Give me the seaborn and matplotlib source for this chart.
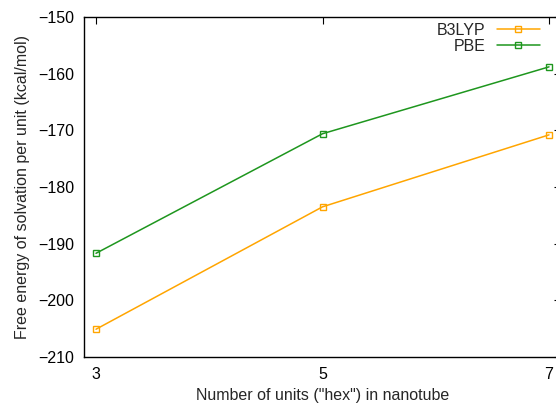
import matplotlib
matplotlib.use("Agg")
import matplotlib.pyplot as plt
import seaborn as sns
import pandas as pd
from matplotlib.lines import Line2D

units = [3, 5, 7]
b3lyp = [-205.1, -183.5, -170.8]
pbe = [-191.7, -170.6, -158.8]
series_names = ["B3LYP", "PBE"]
colors = ["#FFA500", "#1E961E"]
yticks = [-210, -200, -190, -180, -170, -160, -150]
xticks = [3, 5, 7]

df = pd.DataFrame({
    "units": units * 2,
    "energy": b3lyp + pbe,
    "method": [series_names[0]] * 3 + [series_names[1]] * 3,
})

sns.set_style("white")
plt.rcParams["font.family"] = ["Liberation Sans", "DejaVu Sans"]

fig = plt.figure(figsize=(5.56, 4.04), dpi=100)
ax = fig.add_axes([84 / 556, 47 / 404, 477 / 556, 340 / 404])

sns.lineplot(data=df, x="units", y="energy", hue="method", style="method",
             markers=["s", "s"], dashes=False, palette=colors, ax=ax,
             linewidth=1.1, markersize=4.5, markerfacecolor="none",
             markeredgewidth=1.0, legend=False)
for line, c in zip(ax.lines, colors):
    line.set_markeredgecolor(c)
    line.set_markerfacecolor("none")

ax.set_xlim(2.894, 7.106)
ax.set_ylim(-210, -150)
ax.set_xticks(xticks)
ax.set_yticks(yticks)
ax.tick_params(direction="in", length=5, width=0.8, top=True, right=True,
               labelsize=11.5, colors="black", pad=7)
for s in ax.spines.values():
    s.set_color("black")
    s.set_linewidth(1.0)
ax.set_xlabel('Number of units ("hex") in nanotube', fontsize=11.5, labelpad=4.5)
ax.set_ylabel("Free energy of solvation per unit (kcal/mol)", fontsize=11.5, labelpad=6)

handles = [Line2D([], [], color=c, marker="s", markersize=4.5, markerfacecolor="none",
                  markeredgecolor=c, linewidth=1.1) for c in colors]
ax.legend(handles, series_names, loc="upper right", bbox_to_anchor=(540 / 556, 381 / 404),
          bbox_transform=fig.transFigure, frameon=False, markerfirst=False,
          fontsize=11.5, handlelength=2.7, handletextpad=0.7, labelspacing=0.05,
          borderaxespad=0, borderpad=0)

fig.savefig("out.png", dpi=100)
